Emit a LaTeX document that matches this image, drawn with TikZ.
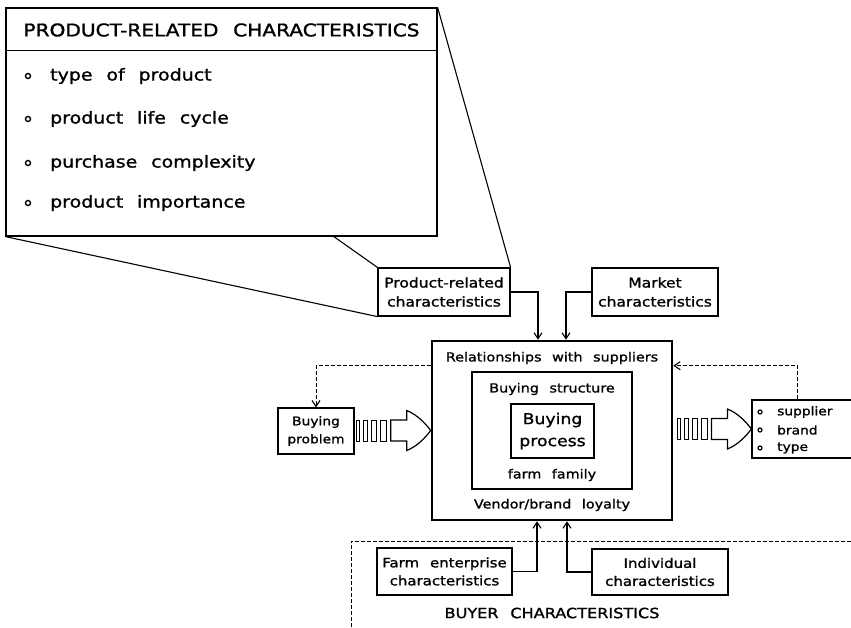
\documentclass[tikz,border=0pt]{standalone}
\usepackage{fontspec}
\setmainfont{DejaVu Sans}[FakeStretch=1.15,FakeBold=1.3,WordSpace=2.3]
\usetikzlibrary{arrows.meta}

\tikzset{
  box/.style={draw, line width=1.2pt, inner sep=0pt, align=center},
  txt/.style={inner sep=0pt, align=center},
  arr/.style={line width=1.1pt, -{Straight Barb[length=6pt,width=8pt,line width=1.1pt]}},
  dsh/.style={line width=1pt, dash pattern=on 4pt off 2pt},
  fatarrow/.pic={
    % striped hollow arrow, tip at the origin
    \foreach \a/\b in {-74/-71,-67/-63,-59/-54,-50/-44}
      \draw[line width=1pt, fill=white] (\a,-10.5) rectangle (\b,10.5);
    \draw[line width=1.2pt, fill=white] (-40,-10.5) -- (-24,-10.5) -- (-24,-20)
      .. controls (-14,-16) and (-6,-8) .. (0,0)
      .. controls (-6,8) and (-14,16) .. (-24,20) -- (-24,10.5) -- (-40,10.5) -- cycle;
  }
}

\begin{document}
\begin{tikzpicture}[x=1pt, y=-1pt]
\clip (0,0) rectangle (851,627);

% ---------- detail panel of the product-related characteristics ----------
\node[box, minimum width=431pt, minimum height=228pt] (detail) at (221.5,122) {};
\draw[line width=1.2pt] ([yshift=-43pt]detail.north west) -- ([yshift=-43pt]detail.north east);
\node[txt, font=\fontsize{17.5}{21}\selectfont] (title) at (221.5,30) {PRODUCT-RELATED CHARACTERISTICS};
\foreach \y/\t [count=\i] in {76/type of product, 119/product life cycle, 163/purchase complexity, 203/product importance} {
  \draw[line width=1.4pt] (28,\y) circle (2.5);
  \node[txt, anchor=west, font=\fontsize{16.5}{20}\selectfont] (item\i) at (50,\y) {\t};
}

% ---------- influencing factors on top ----------
\node[box, minimum width=132pt, minimum height=48pt, font=\fontsize{13.5}{19}\selectfont] (prod) at (444,292) {Product-related\\characteristics};
\node[box, minimum width=126pt, minimum height=48pt, font=\fontsize{13.5}{19}\selectfont] (market) at (655,292) {Market\\characteristics};

% callout lines from the small box to the detail panel
\coordinate (cw) at (333,236);
\draw[line width=1.1pt] (detail.north east) -- (prod.north east);
\draw[line width=1.1pt] (detail.south west) -- (prod.south west);
\draw[line width=1.1pt] (cw) -- (prod.north west);

% ---------- central buying model ----------
\node[draw, line width=2.6pt, minimum width=240pt, minimum height=179pt, inner sep=0pt] (main) at (552,430.5) {};
\node[draw, line width=1.4pt, minimum width=160pt, minimum height=117pt, inner sep=0pt] (struct) at (552,430.5) {};
\node[box, line width=1.4pt, minimum width=83pt, minimum height=54pt, font=\fontsize{15}{22}\selectfont] (process) at (552.5,431) {Buying\\process};
\node[txt, font=\fontsize{12.5}{15}\selectfont] (rel) at (552,358) {Relationships with suppliers};
\node[txt, font=\fontsize{12.5}{15}\selectfont] (bstruct) at (552,389) {Buying structure};
\node[txt, font=\fontsize{12.5}{15}\selectfont] (family) at (552,475) {farm family};
\node[txt, font=\fontsize{12.5}{15}\selectfont] (loyal) at (552,505) {Vendor/brand loyalty};

\draw[arr] (prod.east) -| ([xshift=-14pt]main.north);
\draw[arr] (market.west) -| ([xshift=14pt]main.north);

% ---------- input and output ----------
\node[box, minimum width=76pt, minimum height=46pt, font=\fontsize{12}{18}\selectfont] (problem) at (316,431) {Buying\\problem};
\node[draw, line width=1.2pt, minimum width=104pt, minimum height=58pt, inner sep=0pt] (output) at (804,429) {};
\foreach \y/\t [count=\i] in {412/supplier, 430/brand, 448/type} {
  \draw[line width=1.2pt] (760,\y) circle (2);
  \node[txt, anchor=west, font=\fontsize{12}{15}\selectfont] (out\i) at (777,\y) {\t};
}

\pic at (main.west) {fatarrow};
\pic at (output.west) {fatarrow};

\draw[arr, dsh] ([yshift=-26pt]main.north west) -| (problem.north);
\draw[arr, dsh] ([xshift=-7pt]output.north) |- ([yshift=-26pt]main.north east);

% ---------- buyer characteristics ----------
\coordinate (bl) at (351,627);
\coordinate (bc) at (351,541);
\coordinate (br) at (851,541);
\draw[dsh] (bl) -- (bc) -- (br);

\node[box, minimum width=135pt, minimum height=47pt, font=\fontsize{13}{18}\selectfont] (farm) at (444.5,571.5) {Farm enterprise\\characteristics};
\node[box, minimum width=136pt, minimum height=46pt, font=\fontsize{13}{18}\selectfont] (indiv) at (660,572) {Individual\\characteristics};
\node[txt, font=\fontsize{14}{17}\selectfont] (buyer) at (552,613) {BUYER CHARACTERISTICS};

\draw[arr] (farm.east) -| ([xshift=-15pt]main.south);
\draw[arr] (indiv.west) -| ([xshift=15pt]main.south);

\end{tikzpicture}
\end{document}
